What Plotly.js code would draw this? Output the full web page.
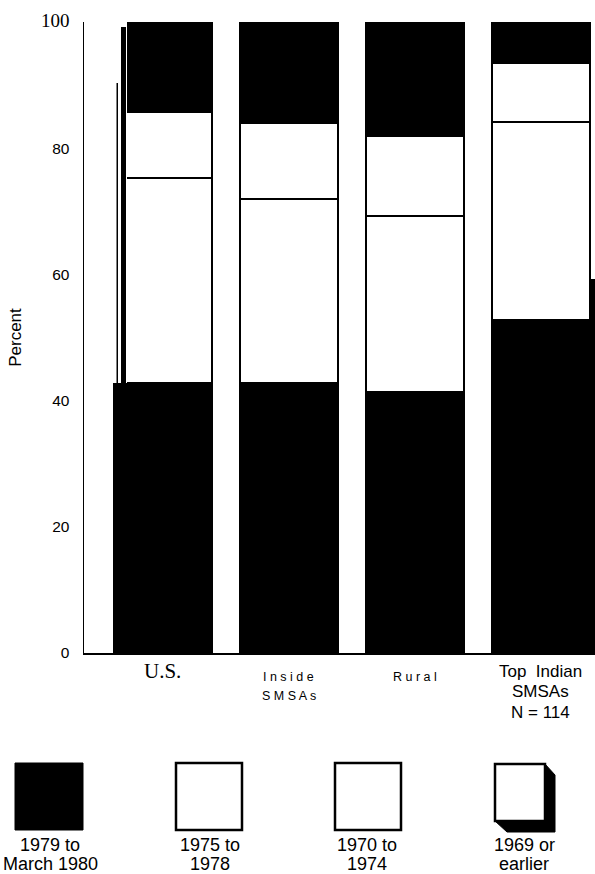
<!DOCTYPE html>
<html><head><meta charset="utf-8">
<script src="https://cdn.plot.ly/plotly-3.0.1.min.js"></script>
<style>body{margin:0;background:#fff}#c{width:595px;height:874px}</style>
</head><body><div id="c"></div>
<script>
const categories = ['U.S.', 'Inside SMSAs', 'Rural', 'Top Indian SMSAs'];
const catLines = [['U.S.'], ['I n s i d e', 'S M S A s'], ['R u r a l'], ['Top  Indian', 'SMSAs', 'N = 114']];
const p1979 = [42.8, 42.8, 41.3, 52.8];
const p1975 = [32.4, 29.2, 28.0, 31.4];
const p1970 = [10.6, 12.0, 12.6, 9.3];
const p1969 = [14.2, 16.0, 18.1, 6.5];
const seriesLine1 = ['1979 to', '1975 to', '1970 to', '1969 or'];
const seriesLine2 = ['March 1980', '1978', '1974', 'earlier'];
const yTicks = [0, 20, 40, 60, 80, 100];

const W = 595, H = 874, L = 84, R = 0, T = 22, B = 221;
const pw = W - L - R, ph = H - T - B;
const px = x => (x - L) / pw;
const py = y => (H - B - y) / ph;

const mk = (vals, fill, name) => ({
  type: 'bar', x: categories, y: vals, name: name,
  marker: {color: fill, line: {color: '#000', width: 2}},
  showlegend: false, hoverinfo: 'skip'
});
const traces = [
  mk(p1979, '#000', seriesLine1[0] + ' ' + seriesLine2[0]),
  mk(p1975, '#fff', seriesLine1[1] + ' ' + seriesLine2[1]),
  mk(p1970, '#fff', seriesLine1[2] + ' ' + seriesLine2[2]),
  mk(p1969, '#000', seriesLine1[3] + ' ' + seriesLine2[3])
];

const annotations = [];
const firstLineY = [671, 677, 677, 671];
const lineGap = [0, 19, 0, 20.5];
const fonts = [
  {family: 'Liberation Serif', size: 21, color: '#000'},
  {family: 'Liberation Sans', size: 12.5, color: '#000'},
  {family: 'Liberation Sans', size: 12.5, color: '#000'},
  {family: 'Liberation Sans', size: 17, color: '#000'}
];
categories.forEach((c, i) => {
  catLines[i].forEach((t, k) => {
    annotations.push({x: c, y: 0, xref: 'x', yref: 'y', yanchor: 'middle', xanchor: 'center',
      yshift: -(firstLineY[i] + k * lineGap[i] - 653), text: t, showarrow: false, font: fonts[i]});
  });
});

// custom legend
const shapes = [];
const boxes = [[15, 83], [176, 242], [335, 401]];
const labelX = [50, 210, 367, 524];
boxes.forEach((b, i) => {
  shapes.push({type: 'rect', xref: 'paper', yref: 'paper', x0: px(b[0]), x1: px(b[1]), y0: py(830), y1: py(763),
    fillcolor: i === 0 ? '#000' : '#fff', line: {color: '#000', width: i === 0 ? 1 : 2.5}});
});
shapes.push({type: 'path', xref: 'paper', yref: 'paper',
  path: `M ${px(495)},${py(821)} L ${px(507)},${py(832)} L ${px(555)},${py(832)} L ${px(555)},${py(775)} L ${px(545)},${py(764)} L ${px(545)},${py(821)} Z`,
  fillcolor: '#000', line: {color: '#000', width: 1}});
shapes.push({type: 'rect', xref: 'paper', yref: 'paper', x0: px(495), x1: px(545), y0: py(821), y1: py(764),
  fillcolor: '#fff', line: {color: '#000', width: 2.5}});
labelX.forEach((x, i) => {
  annotations.push({xref: 'paper', yref: 'paper', x: px(x), y: py(845), xanchor: 'center', yanchor: 'middle',
    text: seriesLine1[i], showarrow: false, font: {family: 'Liberation Sans', size: 18, color: '#000'}});
  annotations.push({xref: 'paper', yref: 'paper', x: px(x), y: py(864), xanchor: 'center', yanchor: 'middle',
    text: seriesLine2[i], showarrow: false, font: {family: 'Liberation Sans', size: 18, color: '#000'}});
});

// scan artefacts beside the first and last bars
shapes.push({type: 'rect', xref: 'paper', yref: 'paper', x0: px(111), x1: px(127), y0: py(383), y1: py(18),
  fillcolor: '#fff', line: {width: 0}});
shapes.push({type: 'rect', xref: 'paper', yref: 'paper', x0: px(116.5), x1: px(118), y0: py(384), y1: py(83),
  fillcolor: '#000', line: {width: 0}});
shapes.push({type: 'rect', xref: 'paper', yref: 'paper', x0: px(121), x1: px(126), y0: py(384), y1: py(27),
  fillcolor: '#000', line: {width: 0}});
shapes.push({type: 'rect', xref: 'paper', yref: 'paper', x0: px(590), x1: px(595), y0: py(653), y1: py(279),
  fillcolor: '#000', line: {width: 0}});

const layout = {
  width: W, height: H, margin: {l: L, r: R, t: T, b: B},
  paper_bgcolor: '#fff', plot_bgcolor: '#fff',
  barmode: 'stack', bargap: 0.22,
  showlegend: false,
  xaxis: {range: [-0.627, 3.429], showticklabels: false, ticks: '', showgrid: false,
    showline: true, linecolor: '#000', linewidth: 1.5, zeroline: false, fixedrange: true},
  yaxis: {range: [0, 100], tickvals: yTicks,
    ticktext: yTicks.map(v => v === 100 ? '<span style="font-family:Liberation Serif;font-size:19px">100</span>' : String(v)),
    ticks: 'outside', ticklen: 10, tickcolor: 'rgba(0,0,0,0)',
    tickfont: {family: 'Liberation Sans', size: 15.5, color: '#000'},
    showgrid: false, zeroline: false, showline: true, linecolor: '#000', linewidth: 1.5,
    title: {text: 'Percent', font: {family: 'Liberation Sans', size: 17, color: '#000'}, standoff: 15}},
  annotations: annotations, shapes: shapes
};
Plotly.newPlot('c', traces, layout, {staticPlot: true});
</script></body></html>
